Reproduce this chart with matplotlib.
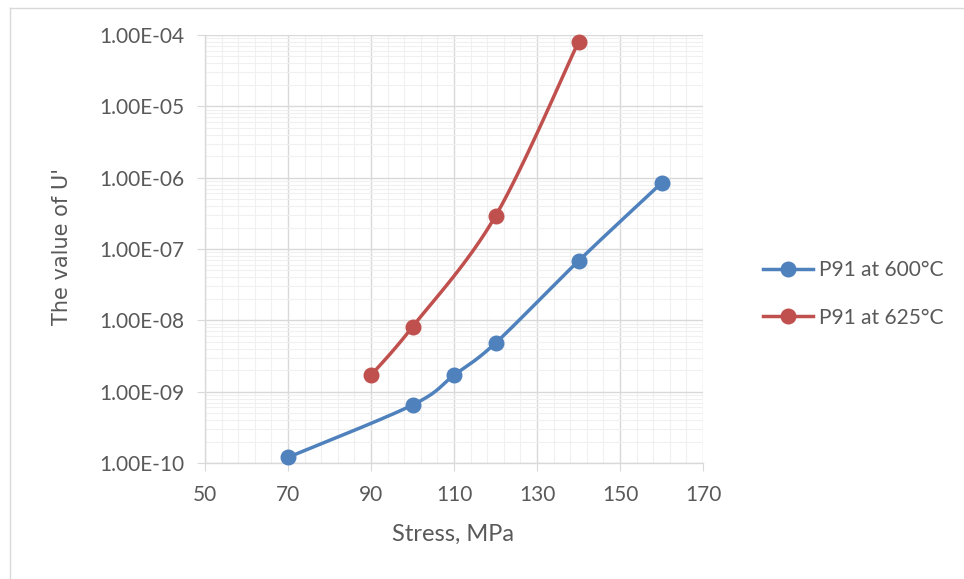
import numpy as np
import matplotlib
matplotlib.use("Agg")
import matplotlib.pyplot as plt
from matplotlib.ticker import FixedLocator, NullFormatter, LogLocator
from matplotlib.lines import Line2D

stress_600 = [70, 100, 110, 120, 140, 160]
u_600 = [1.2e-10, 6.5e-10, 1.7e-9, 4.8e-9, 6.8e-8, 8.4e-7]
stress_625 = [90, 100, 120, 140]
u_625 = [1.7e-9, 8.1e-9, 2.9e-7, 8.0e-5]
labels = ["P91 at 600\u00b0C", "P91 at 625\u00b0C"]
colors = ["#4f81bd", "#c0504d"]
ytick_vals = [1e-10, 1e-9, 1e-8, 1e-7, 1e-6, 1e-5, 1e-4]
ytick_labels = ["1.00E-10", "1.00E-09", "1.00E-08", "1.00E-07", "1.00E-06", "1.00E-05", "1.00E-04"]
xtick_vals = [50, 70, 90, 110, 130, 150, 170]

XMIN, XMAX, YMIN, YMAX = 50, 170, 1e-10, 1e-4

fig = plt.figure(figsize=(9.64, 5.79), dpi=100)
ax = fig.add_axes([205/964, 1 - 463/579, (703-205)/964, (463-35)/579])


def smooth(xs, ys, n=30):
    # Catmull-Rom in normalized (x, log y) space, like Excel's smoothed line
    px = (np.array(xs, float) - XMIN) / (XMAX - XMIN)
    py = (np.log10(ys) - np.log10(YMIN)) / (np.log10(YMAX) - np.log10(YMIN)) * (428/498)
    P = np.column_stack([px, py])
    P = np.vstack([P[0], P, P[-1]])
    out = []
    for i in range(1, len(P) - 2):
        p0, p1, p2, p3 = P[i-1], P[i], P[i+1], P[i+2]
        t = np.linspace(0, 1, n)[:, None]
        c1 = p1 + (p2 - p0) / 6
        c2 = p2 - (p3 - p1) / 6
        seg = (1-t)**3 * p1 + 3*(1-t)**2*t*c1 + 3*(1-t)*t**2*c2 + t**3*p2
        out.append(seg if i == 1 else seg[1:])
    S = np.vstack(out)
    sx = S[:, 0] * (XMAX - XMIN) + XMIN
    sy = 10 ** (S[:, 1] / (428/498) * (np.log10(YMAX) - np.log10(YMIN)) + np.log10(YMIN))
    return sx, sy


ax.set_yscale("log")
ax.set_xlim(XMIN, XMAX)
ax.set_ylim(YMIN, YMAX)

for xs, ys, c, lab in [(stress_600, u_600, colors[0], labels[0]), (stress_625, u_625, colors[1], labels[1])]:
    sx, sy = smooth(xs, ys)
    ax.plot(sx, sy, color=c, lw=2.5, solid_capstyle="round", zorder=3, clip_on=False)
    ax.plot(xs, ys, "o", color=c, ms=10.5, zorder=4, clip_on=False)

ax.xaxis.set_major_locator(FixedLocator(xtick_vals))
ax.xaxis.set_minor_locator(FixedLocator(np.arange(50, 171, 4)))
ax.yaxis.set_major_locator(FixedLocator(ytick_vals))
ax.yaxis.set_minor_locator(LogLocator(base=10, subs=np.arange(2, 10), numticks=20))
ax.yaxis.set_minor_formatter(NullFormatter())
ax.set_yticklabels(ytick_labels)

ax.grid(True, which="major", color="#d9d9d9", lw=1.0, zorder=0)
ax.grid(True, which="minor", color="#f0f0f0", lw=0.8, zorder=0)
ax.set_axisbelow(True)

for s in ["top", "right"]:
    ax.spines[s].set_visible(False)
for s in ["left", "bottom"]:
    ax.spines[s].set_color("#d9d9d9")
    ax.spines[s].set_linewidth(1.0)

ax.tick_params(which="major", length=6, color="#d9d9d9", labelsize=15, labelcolor="#595959", direction="out")
ax.tick_params(which="minor", length=0)
ax.tick_params(axis="x", pad=10)
ax.tick_params(axis="y", pad=9)
for lbl in ax.get_xticklabels() + ax.get_yticklabels():
    lbl.set_fontfamily("Lato")

ax.set_xlabel("Stress, MPa", fontsize=17, color="#595959", family="Lato")
ax.xaxis.set_label_coords(0.498, -0.142)
ax.set_ylabel("The value of U'", fontsize=15, color="#595959", family="DejaVu Sans")
ax.yaxis.set_label_coords(-0.268, 0.505)

handles = [Line2D([], [], color=c, lw=2.5, marker="o", ms=10.5) for c in colors]
leg = fig.legend(handles, labels, loc="center left", bbox_to_anchor=(744/964, 1 - 294/579),
                 frameon=False, prop={"family": "Lato", "size": 15}, handlelength=2.4,
                 labelspacing=1.3, handletextpad=0.3)
for t in leg.get_texts():
    t.set_color("#595959")

# outer chart border (light gray)
fig.add_artist(Line2D([10/964, 10/964], [0, 1 - 8/579], transform=fig.transFigure, color="#d9d9d9", lw=1))
fig.add_artist(Line2D([10/964, 1], [1 - 8/579, 1 - 8/579], transform=fig.transFigure, color="#d9d9d9", lw=1))

fig.savefig("out.png", dpi=100, facecolor="white")
